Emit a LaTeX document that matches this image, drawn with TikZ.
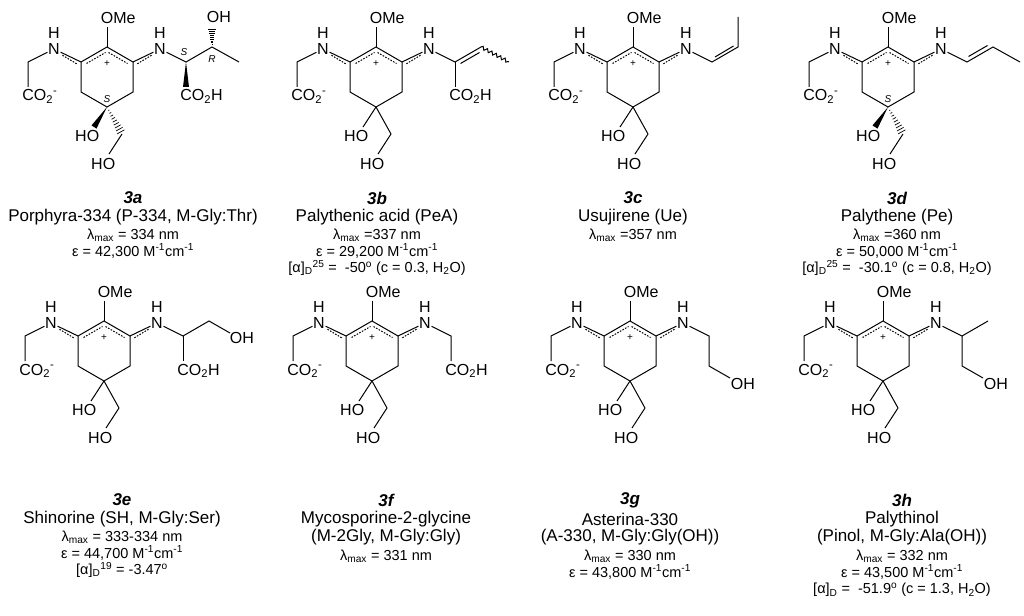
\documentclass[tikz,border=0pt]{standalone}
\usepackage{fontspec}
\setmainfont{Liberation Sans}
\usetikzlibrary{decorations.pathmorphing}
\newcommand\mAtomF{\fontsize{16}{16}\selectfont}
\newcommand\mStF{\fontsize{10}{10}\selectfont\itshape}
\newcommand\mNameF{\fontsize{17}{18}\selectfont}
\newcommand\mDataF{\fontsize{14.5}{15}\selectfont}
\newcommand\mTitleF{\fontsize{17}{18}\selectfont\bfseries\itshape}
\tikzset{
  bond/.style={line width=1pt},
  pdash/.style={line width=1pt, dash pattern=on 1.6pt off 1.4pt},
  atom/.style={font=\mAtomF, inner sep=0.6pt},
  stlbl/.style={font=\mStF, inner sep=0pt},
  lbl/.style={inner sep=0pt},
}
% core: #1 x, #2 y of ring top, #3 prefix, #4 stereo (1/0)
\newcommand\mcore[4]{%
\begin{scope}[shift={(#1,#2)}]
  \coordinate (#3T) at (0,0); \coordinate (#3c1) at (-26,15);
  \coordinate (#3c3) at (26,15); \coordinate (#3c4) at (26,45);
  \coordinate (#3c5) at (0,60); \coordinate (#3c6) at (-26,45);
  \draw[bond] (#3c1) -- (#3T) -- (#3c3) -- (#3c4) -- (#3c5) -- (#3c6) -- (#3c1);
  \draw[pdash] (-20.5,16.5) -- (-1.5,5.5);
  \draw[pdash] (1.5,5.5) -- (20.5,16.5);
  \node[inner sep=0pt, font=\fontsize{10}{10}\selectfont] (#3plus) at (0,17) {+};
  \coordinate (#3om) at (0,-20);
  \draw[bond] (#3T) -- (#3om);
  \node[atom, anchor=west] (#3OMe) at (-7,-29) {OMe};
  \node[atom] (#3NL) at (-53,2) {N};
  \node[atom] (#3HL) at (-53,-14) {H};
  \node[atom] (#3NR) at (53,2) {N};
  \node[atom] (#3HR) at (53,-14) {H};
  \draw[bond] (#3c1) -- (#3NL);
  \draw[bond] (#3c3) -- (#3NR);
  \draw[pdash] (-30.3,16.8) -- (-45,8);
  \draw[pdash] (30.3,16.8) -- (45,8);
  \coordinate (#3g1) at (-79,15); \coordinate (#3g2) at (-79,40);
  \draw[bond] (#3NL) -- (#3g1) -- (#3g2);
  \node[atom, anchor=base west] (#3CO2m) at (-85.5,54) {CO\textsubscript{2}\textsuperscript{-}};
  \coordinate (#3o1) at (-13,80); \coordinate (#3ca) at (15,87); \coordinate (#3o2) at (2,107);
  \node[atom, anchor=base east] (#3HO1) at (-7,94) {HO};
  \node[atom, anchor=base east] (#3HO2) at (9,122) {HO};
  \draw[bond] (#3ca) -- (#3o2);
  \ifnum#4=1
    \fill (#3c5) -- (-10.5,81.6) -- (-15.5,78.4) -- cycle;
    \foreach \t in {0.12,0.22,...,0.95}
      \draw[line width=0.7pt] ({15*\t+4*\t},{60+27*\t-2.2*\t}) -- ({15*\t-4*\t},{60+27*\t+2.2*\t});
    \node[stlbl] (#3S5) at (0,52) {S};
  \else
    \draw[bond] (#3c5) -- (#3o1);
    \draw[bond] (#3c5) -- (#3ca);
  \fi
\end{scope}}
\begin{document}
\begin{tikzpicture}[x=1pt,y=-1pt]
\useasboundingbox (0,0) rectangle (1024,615);
\fill[white] (0,0) rectangle (1024,615);
% ---------- 3a
\mcore{107}{47}{a}{1}
\begin{scope}[shift={(107,47)}]
  \coordinate (aA) at (79,15); \coordinate (aB) at (105,0); \coordinate (aMe) at (132,15);
  \draw[bond] (aNR) -- (aA) -- (aB) -- (aMe);
  \fill (aA) -- (82,40) -- (76,40) -- cycle;
  \node[atom, anchor=base west] (aCO2H) at (72.5,54) {CO\textsubscript{2}H};
  \foreach \t in {0.12,0.22,...,0.95}
    \draw[line width=0.7pt] ({105-4*\t},{-19*\t}) -- ({105+4*\t},{-19*\t});
  \node[atom, anchor=base west] (aOH) at (99,-24) {OH};
  \node[stlbl] (aS) at (77,5) {S};
  \node[stlbl] (aR) at (105,12) {R};
\end{scope}
% ---------- 3b
\mcore{376}{47}{b}{0}
\begin{scope}[shift={(376,47)}]
  \coordinate (bA) at (79,15); \coordinate (bB) at (105,0); \coordinate (bW) at (133,15);
  \draw[bond] (bNR) -- (bA) -- (bB);
  \draw[bond] (84.5,16.5) -- (103.5,5.5);
  \draw[bond, decorate, decoration={snake, amplitude=1.6pt, segment length=5pt}] (bB) -- (bW);
  \coordinate (bAc) at (79,40);
  \draw[bond] (bA) -- (bAc);
  \node[atom, anchor=base west] (bCO2H) at (72.5,54) {CO\textsubscript{2}H};
\end{scope}
% ---------- 3c
\mcore{633}{47}{c}{0}
\begin{scope}[shift={(633,47)}]
  \coordinate (cA) at (79,15); \coordinate (cB) at (105,0); \coordinate (cMe) at (105,-30);
  \draw[bond] (cNR) -- (cA) -- (cB) -- (cMe);
  \draw[bond] (82,10) -- (100.5,-1);
\end{scope}
% ---------- 3d
\mcore{888}{47}{d}{1}
\begin{scope}[shift={(888,47)}]
  \coordinate (dA) at (79,15); \coordinate (dB) at (105,0); \coordinate (dMe) at (132,15);
  \draw[bond] (dNR) -- (dA) -- (dB) -- (dMe);
  \draw[bond] (80.5,9.5) -- (99.5,-1.5);
\end{scope}
% ---------- 3e
\mcore{104}{321}{e}{0}
\begin{scope}[shift={(104,321)}]
  \coordinate (eA) at (79,15); \coordinate (eB) at (105,0); \coordinate (eO) at (126,12);
  \draw[bond] (eNR) -- (eA) -- (eB) -- (eO);
  \coordinate (eAc) at (79,40);
  \draw[bond] (eA) -- (eAc);
  \node[atom, anchor=base west] (eCO2H) at (72.5,54) {CO\textsubscript{2}H};
  \node[atom, anchor=base west] (eOH) at (125,22) {OH};
\end{scope}
% ---------- 3f
\mcore{372}{321}{f}{0}
\begin{scope}[shift={(372,321)}]
  \coordinate (fA) at (79,15); \coordinate (fAc) at (79,40);
  \draw[bond] (fNR) -- (fA) -- (fAc);
  \node[atom, anchor=base west] (fCO2H) at (72.5,54) {CO\textsubscript{2}H};
\end{scope}
% ---------- 3g
\mcore{630}{321}{g}{0}
\begin{scope}[shift={(630,321)}]
  \coordinate (gA) at (79,15); \coordinate (gB) at (79,45); \coordinate (gO) at (100,57);
  \draw[bond] (gNR) -- (gA) -- (gB) -- (gO);
  \node[atom, anchor=base west] (gOH) at (100,68) {OH};
\end{scope}
% ---------- 3h
\mcore{883}{321}{h}{0}
\begin{scope}[shift={(883,321)}]
  \coordinate (hA) at (79,15); \coordinate (hMe) at (105,0); \coordinate (hB) at (79,45); \coordinate (hO) at (100,57);
  \draw[bond] (hNR) -- (hA) -- (hMe);
  \draw[bond] (hA) -- (hB) -- (hO);
  \node[atom, anchor=base west] (hOH) at (100,68) {OH};
\end{scope}
% ---------- captions
\node[lbl, font=\mTitleF] (ta) at (133,198) {3a};
\node[lbl, font=\mNameF] (na) at (133,217) {Porphyra-334 (P-334, M-Gly:Thr)};
\node[lbl, font=\mDataF] (la) at (133,235) {λ\textsubscript{max} = 334 nm};
\node[lbl, font=\mDataF] (ea) at (133,251) {ε = 42,300 M\textsuperscript{-1}cm\textsuperscript{-1}};

\node[lbl, font=\mTitleF] (tb) at (377,198) {3b};
\node[lbl, font=\mNameF] (nb) at (377,217) {Palythenic acid (PeA)};
\node[lbl, font=\mDataF] (lb) at (377,235) {λ\textsubscript{max} =337 nm};
\node[lbl, font=\mDataF] (eb) at (377,251) {ε = 29,200 M\textsuperscript{-1}cm\textsuperscript{-1}};
\node[lbl, font=\mDataF] (ab) at (377,268) {[α]\textsubscript{D}\textsuperscript{25} =~ -50\textsuperscript{o} (c = 0.3, H\textsubscript{2}O)};

\node[lbl, font=\mTitleF] (tc) at (633,198) {3c};
\node[lbl, font=\mNameF] (nc) at (633,217) {Usujirene (Ue)};
\node[lbl, font=\mDataF] (lc) at (633,235) {λ\textsubscript{max} =357 nm};

\node[lbl, font=\mTitleF] (td) at (897,198) {3d};
\node[lbl, font=\mNameF] (nd) at (897,217) {Palythene (Pe)};
\node[lbl, font=\mDataF] (ld) at (897,235) {λ\textsubscript{max} =360 nm};
\node[lbl, font=\mDataF] (ed) at (897,251) {ε = 50,000 M\textsuperscript{-1}cm\textsuperscript{-1}};
\node[lbl, font=\mDataF] (ad) at (897,268) {[α]\textsubscript{D}\textsuperscript{25} =~ -30.1\textsuperscript{o} (c = 0.8, H\textsubscript{2}O)};

\node[lbl, font=\mTitleF] (te) at (122,500) {3e};
\node[lbl, font=\mNameF] (ne) at (122,519) {Shinorine (SH, M-Gly:Ser)};
\node[lbl, font=\mDataF] (le) at (122,537) {λ\textsubscript{max} = 333-334 nm};
\node[lbl, font=\mDataF] (ee) at (122,553) {ε = 44,700 M\textsuperscript{-1}cm\textsuperscript{-1}};
\node[lbl, font=\mDataF] (ae) at (122,570) {[α]\textsubscript{D}\textsuperscript{19} = -3.47\textsuperscript{o}};

\node[lbl, font=\mTitleF] (tf) at (386,500) {3f};
\node[lbl, font=\mNameF] (nf1) at (386,519) {Mycosporine-2-glycine};
\node[lbl, font=\mNameF] (nf2) at (386,537) {(M-2Gly, M-Gly:Gly)};
\node[lbl, font=\mDataF] (lf) at (386,556) {λ\textsubscript{max} = 331 nm};

\node[lbl, font=\mTitleF] (tg) at (630,500) {3g};
\node[lbl, font=\mNameF] (ng1) at (630,519) {Asterina-330};
\node[lbl, font=\mNameF] (ng2) at (630,537) {(A-330, M-Gly:Gly(OH))};
\node[lbl, font=\mDataF] (lg) at (630,556) {λ\textsubscript{max} = 330 nm};
\node[lbl, font=\mDataF] (eg) at (630,572) {ε = 43,800 M\textsuperscript{-1}cm\textsuperscript{-1}};

\node[lbl, font=\mTitleF] (th) at (902,500) {3h};
\node[lbl, font=\mNameF] (nh1) at (902,519) {Palythinol};
\node[lbl, font=\mNameF] (nh2) at (902,537) {(Pinol, M-Gly:Ala(OH))};
\node[lbl, font=\mDataF] (lh) at (902,556) {λ\textsubscript{max} = 332 nm};
\node[lbl, font=\mDataF] (eh) at (902,572) {ε = 43,500 M\textsuperscript{-1}cm\textsuperscript{-1}};
\node[lbl, font=\mDataF] (ah) at (902,590) {[α]\textsubscript{D} =~ -51.9\textsuperscript{o} (c = 1.3, H\textsubscript{2}O)};
\end{tikzpicture}
\end{document}
